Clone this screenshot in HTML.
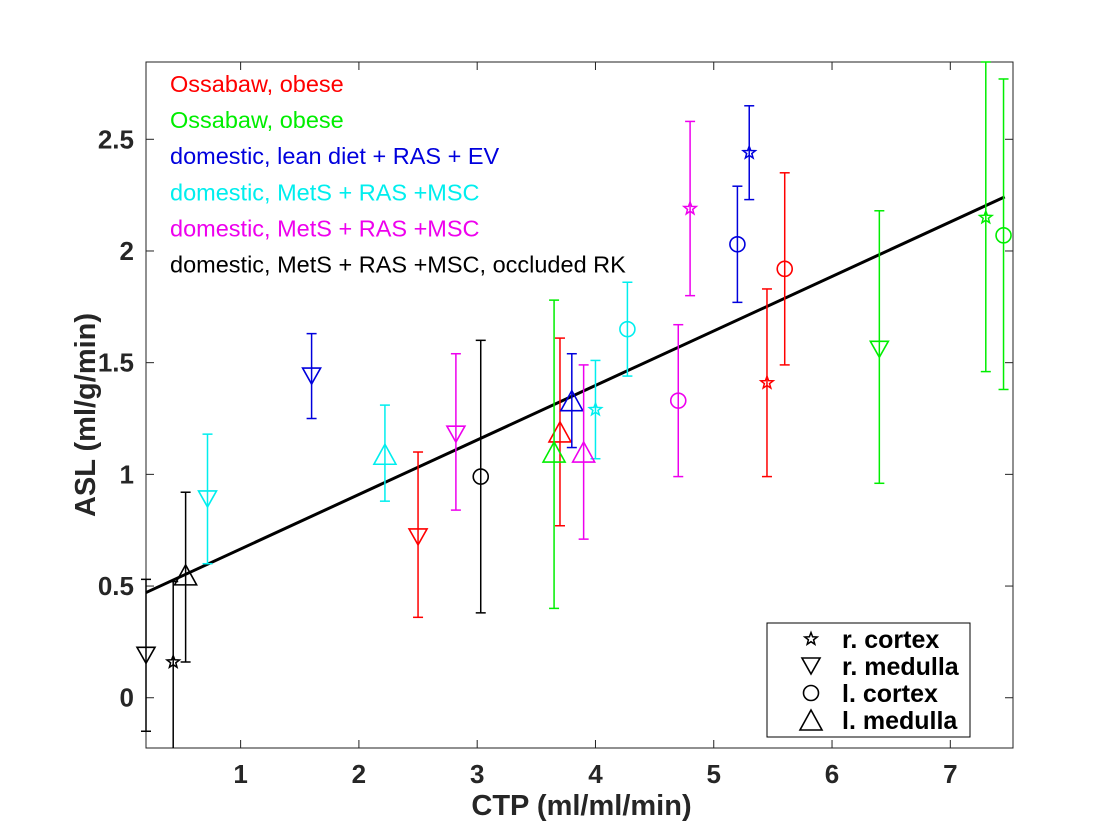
<!DOCTYPE html>
<html><head><meta charset="utf-8"><style>
body{margin:0;background:#fff;}
svg{display:block;font-family:"Liberation Sans",Arial,sans-serif;}
</style></head><body>
<svg id="chart" width="1120" height="840">
</svg>
<script>
// data arrays
const groupNames = ["Ossabaw, obese","Ossabaw, obese","domestic, lean diet + RAS + EV","domestic, MetS + RAS +MSC","domestic, MetS + RAS +MSC","domestic, MetS + RAS +MSC, occluded RK"];
const groupColors = ["#ff0000","#00ee00","#0000dd","#00eeee","#ee00ee","#000000"];
const markerTypes = ["star","tridown","circle","triup"];
const markerLabels = ["r. cortex","r. medulla","l. cortex","l. medulla"];
const pointGroup =  [0,0,0,0, 1,1,1,1, 2,2,2,2, 3,3,3,3, 4,4,4,4, 5,5,5,5];
const pointMarker = [1,3,0,2, 3,1,0,2, 1,3,2,0, 1,3,0,2, 1,3,2,0, 1,0,3,2];
const pointX =  [2.5,3.7,5.45,5.6, 3.65,6.4,7.3,7.45, 1.6,3.8,5.2,5.3, 0.72,2.22,4.0,4.27, 2.82,3.9,4.7,4.8, 0.2,0.43,0.535,3.03];
const pointY =  [0.72,1.19,1.41,1.92, 1.10,1.56,2.15,2.07, 1.44,1.33,2.03,2.44, 0.89,1.09,1.29,1.65, 1.18,1.10,1.33,2.19, 0.19,0.16,0.55,0.99];
const errLo =   [0.36,0.77,0.99,1.49, 0.40,0.96,1.46,1.38, 1.25,1.12,1.77,2.23, 0.60,0.88,1.07,1.44, 0.84,0.71,0.99,1.80, -0.15,-0.3,0.16,0.38];
const errHi =   [1.10,1.61,1.83,2.35, 1.78,2.18,2.85,2.77, 1.63,1.54,2.29,2.65, 1.18,1.31,1.51,1.86, 1.54,1.49,1.67,2.58, 0.53,0.52,0.92,1.60];
const fitX = [0.2, 7.46];
const fitSlope = 0.244, fitIntercept = 0.422;
const xTicks = [1,2,3,4,5,6,7];
const yTicks = [0,0.5,1,1.5,2,2.5];
const yTickLabels = ["0","0.5","1","1.5","2","2.5"];

const L=146,R=1013,T=62,B=748, xmin=0.2,xmax=7.53, ymin=-0.225, ymax=2.846;
const sx=v=>L+(v-xmin)/(xmax-xmin)*(R-L);
const sy=v=>B-(Math.max(ymin,Math.min(ymax,v))-ymin)/(ymax-ymin)*(B-T);
const svg=document.getElementById('chart');
const NS="http://www.w3.org/2000/svg";
function mk(tag,attrs,parent){const e=document.createElementNS(NS,tag);for(const k in attrs)e.setAttribute(k,attrs[k]);(parent||svg).appendChild(e);return e;}

xTicks.forEach(t=>{
  const g=mk('g',{});
  
  
  mk('line',{x1:sx(t),x2:sx(t),y1:B,y2:B-8,stroke:'#222','stroke-width':1},g);
  mk('line',{x1:sx(t),x2:sx(t),y1:T,y2:T+8,stroke:'#222','stroke-width':1},g);
  const tx=mk('text',{x:sx(t),y:B+35,'text-anchor':'middle','font-size':26,'font-weight':'bold',fill:'#262626'},g);tx.textContent=t;
});
yTicks.forEach((t,i)=>{
  const g=mk('g',{});
  
  
  mk('line',{x1:L,x2:L+8,y1:sy(t),y2:sy(t),stroke:'#222','stroke-width':1},g);
  mk('line',{x1:R,x2:R-8,y1:sy(t),y2:sy(t),stroke:'#222','stroke-width':1},g);
  const tx=mk('text',{x:L-12,y:sy(t)+9,'text-anchor':'end','font-size':26,'font-weight':'bold',fill:'#262626'},g);tx.textContent=yTickLabels[i];
});
const frame=mk('rect',{x:L,y:T,width:R-L,height:B-T,fill:'none',stroke:'#222','stroke-width':1});



const xl=mk('text',{x:(L+R)/2+2,y:815,'text-anchor':'middle','font-size':29,'font-weight':'bold',fill:'#262626'});
xl.textContent='CTP (ml/ml/min)';


const yl=mk('text',{x:0,y:0,transform:`translate(95,${(T+B)/2+10}) rotate(-90)`,'text-anchor':'middle','font-size':29,'font-weight':'bold',fill:'#262626'});
yl.textContent='ASL (ml/g/min)';



function marker(type,cx,cy,color,parent,scale){
  const s=scale||1;
  if(type==='circle') return mk('circle',{cx,cy,r:7.5*s,fill:'none',stroke:color,'stroke-width':1.6},parent);
  if(type==='triup'){const w=11*s,h=10*s;return mk('polygon',{points:`${cx-w},${cy+h} ${cx+w},${cy+h} ${cx},${cy-h}`,fill:'none',stroke:color,'stroke-width':1.6},parent);}
  if(type==='tridown'){const w=9*s,h=8*s;return mk('polygon',{points:`${cx-w},${cy-h} ${cx+w},${cy-h} ${cx},${cy+h}`,fill:'none',stroke:color,'stroke-width':1.6},parent);}
  const ro=6.5*s,ri=2.7*s;let p=[];
  for(let k=0;k<10;k++){const a=-Math.PI/2+k*Math.PI/5;const r=k%2?ri:ro;p.push((cx+r*Math.cos(a)).toFixed(1)+','+(cy+r*Math.sin(a)).toFixed(1));}
  return mk('polygon',{points:p.join(' '),fill:'none',stroke:color,'stroke-width':1.5},parent);
}

const plot=mk('g',{});


const fit=mk('line',{x1:sx(fitX[0]),y1:sy(fitIntercept+fitSlope*fitX[0]),x2:sx(fitX[1]),y2:sy(fitIntercept+fitSlope*fitX[1]),stroke:'#000','stroke-width':3},plot);



pointX.forEach((x,i)=>{
  const c=groupColors[pointGroup[i]];
  const g=mk('g',{},plot);
  
  
  const X=sx(x);
  mk('line',{x1:X,x2:X,y1:sy(errLo[i]),y2:sy(errHi[i]),stroke:c,'stroke-width':1.5},g);
  if(errLo[i]>=ymin) mk('line',{x1:X-5,x2:X+5,y1:sy(errLo[i]),y2:sy(errLo[i]),stroke:c,'stroke-width':1.5},g);
  mk('line',{x1:X-5,x2:X+5,y1:sy(errHi[i]),y2:sy(errHi[i]),stroke:c,'stroke-width':1.5},g);
  marker(markerTypes[pointMarker[i]],X,sy(pointY[i]),c,g);
});

const gl=mk('g',{});


groupNames.forEach((n,i)=>{
  const t=mk('text',{x:170,y:92+i*36.1,'font-size':23.5,fill:groupColors[i]},gl);
  t.textContent=n;
  
  
});

const ml=mk('g',{});


mk('rect',{x:767,y:623,width:203,height:114,fill:'#fff',stroke:'#000','stroke-width':1},ml);
markerLabels.forEach((n,i)=>{
  const cy=639+i*27;
  const e=mk('g',{},ml);
  
  
  marker(markerTypes[i],811,cy,'#000',e);
  const t=mk('text',{x:842,y:cy+9,'font-size':25,'font-weight':'bold',fill:'#000'},e);t.textContent=n;
});
</script>
</body></html>
